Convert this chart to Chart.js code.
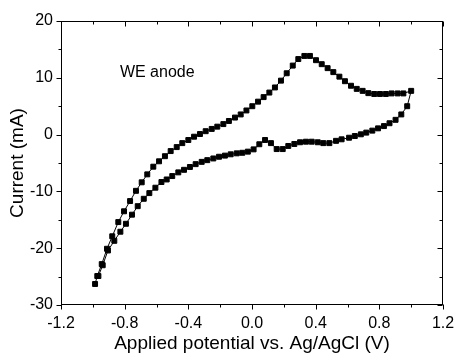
<!DOCTYPE html>
<html>
<head>
<meta charset="utf-8">
<script src="https://cdn.jsdelivr.net/npm/chart.js@4.4.0/dist/chart.umd.min.js"></script>
<style>
html, body { margin: 0; padding: 0; background: #fff; }
</style>
</head>
<body>
<canvas id="cv" width="455" height="355"></canvas>
<script>
// forward (anodic) scan, -1.0 V -> +1.0 V
const fwdX = [-0.986, -0.972, -0.944, -0.911, -0.878, -0.840, -0.804, -0.766, -0.729, -0.693, -0.658, -0.620, -0.584, -0.547, -0.511, -0.473, -0.438, -0.400, -0.364, -0.327, -0.291, -0.253, -0.218, -0.180, -0.145, -0.107, -0.071, -0.035, 0.002, 0.038, 0.073, 0.109, 0.144, 0.182, 0.218, 0.256, 0.291, 0.329, 0.364, 0.402, 0.438, 0.475, 0.511, 0.549, 0.584, 0.622, 0.658, 0.695, 0.731, 0.768, 0.804, 0.841, 0.877, 0.915, 0.951, 1.0]
const fwdY = [-26.3, -24.9, -22.8, -20.1, -17.9, -15.4, -13.5, -11.7, -9.9, -8.4, -7.0, -5.65, -4.7, -3.8, -2.9, -2.2, -1.5, -0.95, -0.37, 0.1, 0.6, 1.0, 1.4, 1.85, 2.4, 3.0, 3.55, 4.25, 5.0, 5.8, 6.6, 7.4, 8.3, 9.5, 10.8, 12.15, 13.3, 13.85, 13.85, 13.1, 12.4, 11.7, 11.0, 10.2, 9.4, 8.6, 8.05, 7.7, 7.3, 7.15, 7.15, 7.15, 7.25, 7.25, 7.25, 7.7]

// reverse scan, +1.0 V -> -1.0 V
const revX = [0.975, 0.938, 0.902, 0.864, 0.829, 0.792, 0.756, 0.718, 0.684, 0.646, 0.610, 0.563, 0.528, 0.486, 0.448, 0.413, 0.375, 0.339, 0.302, 0.266, 0.228, 0.193, 0.155, 0.119, 0.082, 0.046, 0.010, -0.026, -0.061, -0.096, -0.134, -0.170, -0.207, -0.243, -0.281, -0.316, -0.354, -0.390, -0.427, -0.463, -0.501, -0.536, -0.569, -0.607, -0.645, -0.680, -0.718, -0.754, -0.792, -0.827, -0.865, -0.905, -0.938, -0.965]
const revY = [5.0, 3.55, 2.6, 2.0, 1.5, 1.1, 0.7, 0.35, 0.05, -0.25, -0.55, -0.83, -1.1, -1.5, -1.5, -1.35, -1.25, -1.25, -1.35, -1.65, -2.0, -2.55, -2.55, -1.5, -0.95, -1.7, -2.6, -3.0, -3.2, -3.3, -3.47, -3.7, -3.9, -4.2, -4.5, -4.8, -5.2, -5.7, -6.2, -6.65, -7.3, -7.9, -8.35, -9.35, -10.3, -11.3, -12.6, -14.1, -15.7, -17.1, -18.7, -20.4, -23.0, -24.9]

const noteText = 'WE anode'
const noteX = -0.83
const noteY = 11

const FONT = 'Liberation Sans, Arial, Helvetica, sans-serif'

let pts = []
fwdX.forEach((x, i) => pts.push({x: x, y: fwdY[i]}))
revX.forEach((x, i) => pts.push({x: x, y: revY[i]}))

// box round the plot, ticks out on left/bottom, in on top/right
const frameTicks = {
    id: 'frameTicks',
    afterDraw(chart) {
        const ctx = chart.ctx
        const a = chart.chartArea
        const xs = chart.scales.x
        const ys = chart.scales.y
        ctx.save()
        ctx.strokeStyle = '#000'
        ctx.lineWidth = 1
        const L = Math.round(a.left) + 0.5, R = Math.round(a.right) - 0.5
        const T = Math.round(a.top) + 0.5, B = Math.round(a.bottom) - 0.5
        ctx.strokeRect(L, T, R - L, B - T)
        ctx.beginPath()
        for (let i = -6; i <= 6; i++) {
            const len = i % 2 === 0 ? 5 : 3
            const px = Math.round(xs.getPixelForValue(i * 0.2)) + 0.5
            ctx.moveTo(px, B); ctx.lineTo(px, B + len)
            ctx.moveTo(px, T); ctx.lineTo(px, T + len)
        }
        for (let j = -6; j <= 4; j++) {
            const len = j % 2 === 0 ? 5 : 3
            const py = Math.round(ys.getPixelForValue(j * 5)) + 0.5
            ctx.moveTo(L - len, py); ctx.lineTo(L, py)
            ctx.moveTo(R - len, py); ctx.lineTo(R, py)
        }
        ctx.stroke()
        ctx.fillStyle = '#000'
        ctx.font = '16px ' + FONT
        ctx.textAlign = 'left'
        ctx.textBaseline = 'middle'
        ctx.fillText(noteText, xs.getPixelForValue(noteX), ys.getPixelForValue(noteY))
        ctx.restore()
    }
}

new Chart(document.getElementById('cv'), {
    type: 'scatter',
    data: {
        datasets: [{
            data: pts,
            showLine: true,
            borderColor: '#000',
            borderWidth: 1,
            backgroundColor: '#000',
            pointStyle: 'rect',
            pointRadius: 3.5,
            pointHoverRadius: 3.5,
            tension: 0
        }]
    },
    options: {
        responsive: false,
        animation: false,
        layout: { padding: { top: 21, right: 12, left: 0, bottom: 0 } },
        plugins: {
            legend: { display: false },
            tooltip: { enabled: false }
        },
        scales: {
            x: {
                type: 'linear',
                min: -1.2,
                max: 1.2,
                grid: { display: false, drawTicks: false, tickLength: 0 },
                border: { display: false },
                ticks: {
                    stepSize: 0.4,
                    padding: 9,
                    color: '#000',
                    font: { family: FONT, size: 16 },
                    maxRotation: 0,
                    callback: v => Math.abs(v) < 1e-9 ? '0.0' : v.toFixed(1)
                },
                title: {
                    display: true,
                    text: 'Applied potential vs. Ag/AgCl (V)',
                    color: '#000',
                    font: { family: FONT, size: 19 },
                    padding: { top: 0, bottom: 0 }
                },
                afterFit: s => { s.height = 50; s.paddingLeft = 0; s.paddingRight = 0 }
            },
            y: {
                type: 'linear',
                min: -30,
                max: 20,
                grid: { display: false, drawTicks: false, tickLength: 0 },
                border: { display: false },
                ticks: {
                    stepSize: 10,
                    padding: 8,
                    color: '#000',
                    font: { family: FONT, size: 16 }
                },
                title: {
                    display: true,
                    text: 'Current (mA)',
                    color: '#000',
                    font: { family: FONT, size: 19 },
                    padding: { top: 6, bottom: 0 }
                },
                afterFit: s => { s.width = 61; s.paddingTop = 0; s.paddingBottom = 0 }
            }
        }
    },
    plugins: [frameTicks]
})
</script>
</body>
</html>
